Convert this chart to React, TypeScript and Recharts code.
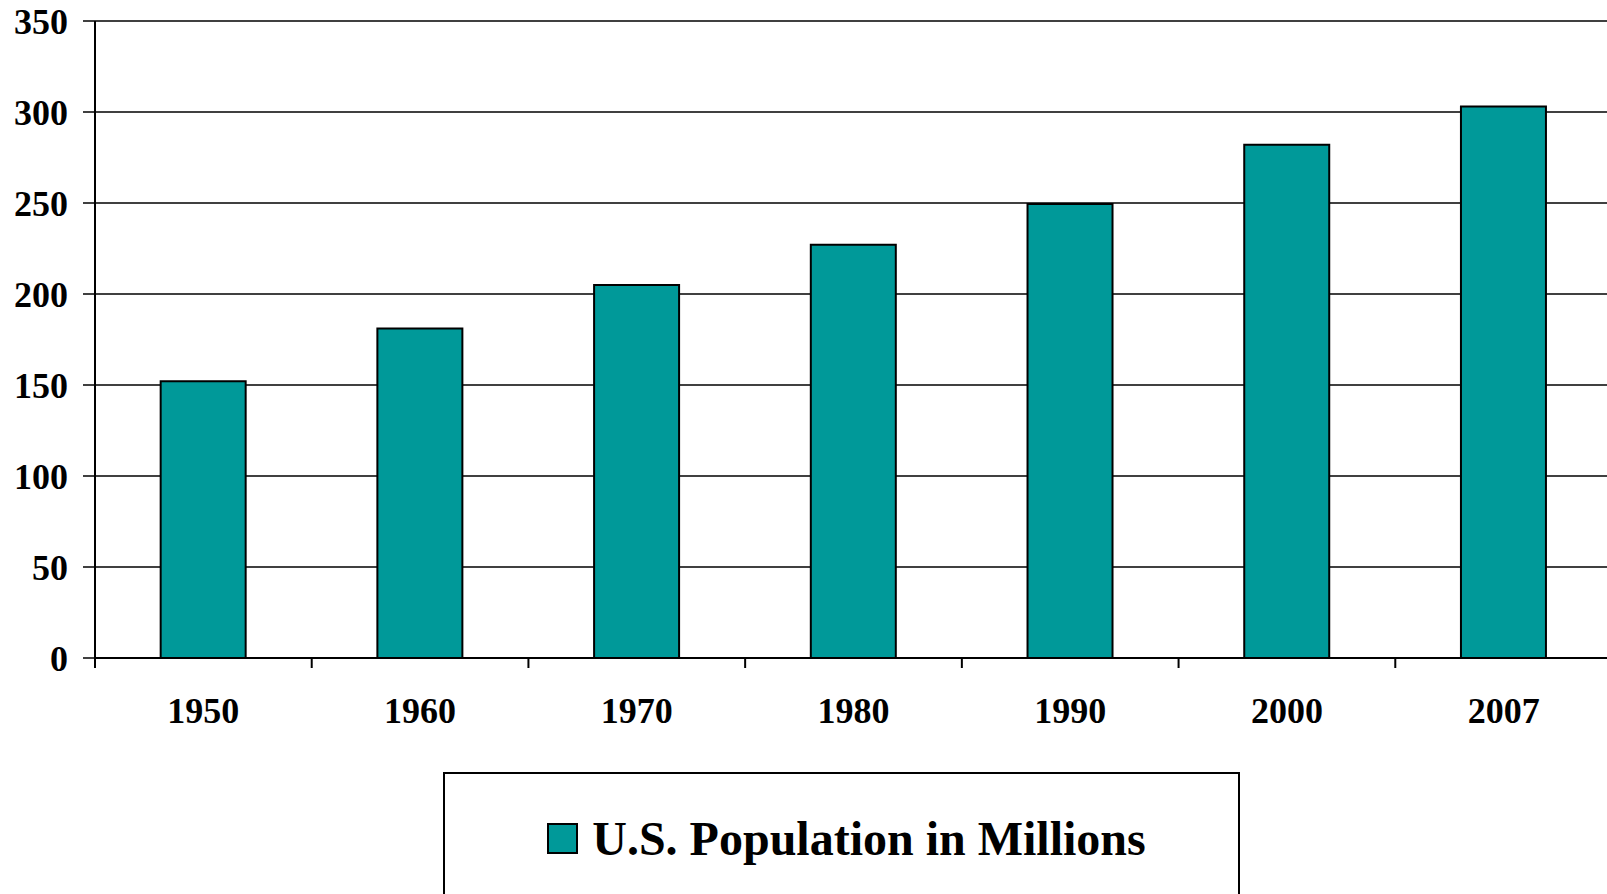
import React from "react";
import { BarChart, Bar, XAxis, YAxis, CartesianGrid, Legend } from "recharts";

const years = ["1950", "1960", "1970", "1980", "1990", "2000", "2007"];
const population = [152, 181, 205, 227, 249.5, 282, 303];
const yTicks = [0, 50, 100, 150, 200, 250, 300, 350];
const seriesName = "U.S. Population in Millions";

const data = years.map((y, i) => ({ year: y, pop: population[i] }));

const FONT = '"Liberation Serif", "Times New Roman", Times, serif';
const CHART_W = 1617;
const CHART_H = 894;
const MARGIN = { top: 21, right: 5, left: 0, bottom: 156 };
const Y_W = 95;
const BAND = (CHART_W - MARGIN.left - MARGIN.right - Y_W) / years.length;
const TEAL = "#009999";

const XTick = (props: any) => {
  const { x, y, payload } = props;
  const bx = x - BAND / 2;
  return (
    <g>
      <line x1={bx} y1={y} x2={bx} y2={y + 10} stroke="#000" strokeWidth={2} />
      <text
        x={x}
        y={y + 65}
        textAnchor="middle"
        fontFamily={FONT}
        fontWeight="bold"
        fontSize={36}
        fill="#000"
      >
        {payload.value}
      </text>
    </g>
  );
};

const LegendBox = (props: any) => {
  const item = (props.payload && props.payload[0]) || { value: seriesName, color: TEAL };
  return (
    <div
      style={{
        boxSizing: "border-box",
        width: 797,
        height: 160,
        border: "2px solid #000",
        background: "#fff",
        display: "flex",
        justifyContent: "center",
        alignItems: "flex-start",
        paddingTop: 45,
        paddingLeft: 10,
      }}
    >
      <div style={{ display: "flex", alignItems: "flex-start" }}>
        <div
          style={{
            boxSizing: "border-box",
            width: 31,
            height: 31,
            background: TEAL,
            border: "2px solid #000",
            marginRight: 14,
            marginTop: 4,
          }}
        />
        <span
          style={{
            fontFamily: FONT,
            fontWeight: "bold",
            fontSize: 48,
            lineHeight: "40px",
            color: "#000",
          }}
        >
          {item.value}
        </span>
      </div>
    </div>
  );
};

export default function App() {
  return (
    <div
      style={{
        position: "absolute",
        left: 0,
        top: 0,
        width: 1607,
        height: 894,
        overflow: "hidden",
        background: "#fff",
      }}
    >
      <BarChart
        width={CHART_W}
        height={CHART_H}
        data={data}
        margin={MARGIN}
        barCategoryGap="30.3%"
      >
        <CartesianGrid vertical={false} stroke="#000" strokeWidth={1.5} />
        <XAxis
          dataKey="year"
          axisLine={{ stroke: "#000", strokeWidth: 2 }}
          tickLine={false}
          tickSize={0}
          tickMargin={0}
          height={80}
          interval={0}
          tick={<XTick />}
        />
        <YAxis
          width={Y_W}
          domain={[0, 350]}
          ticks={yTicks}
          interval={0}
          axisLine={{ stroke: "#000", strokeWidth: 2 }}
          tickLine={{ stroke: "#000", strokeWidth: 1.5 }}
          tickSize={12}
          tickMargin={15}
          tick={{ fill: "#000", fontFamily: FONT, fontWeight: "bold", fontSize: 36 }}
        />
        <Legend
          layout="horizontal"
          verticalAlign="middle"
          align="center"
          content={<LegendBox />}
          wrapperStyle={{ left: 443, top: 772, width: 797, height: 160 }}
        />
        <Bar
          dataKey="pop"
          name={seriesName}
          fill={TEAL}
          stroke="#000"
          strokeWidth={2}
          isAnimationActive={false}
        />
      </BarChart>
    </div>
  );
}
